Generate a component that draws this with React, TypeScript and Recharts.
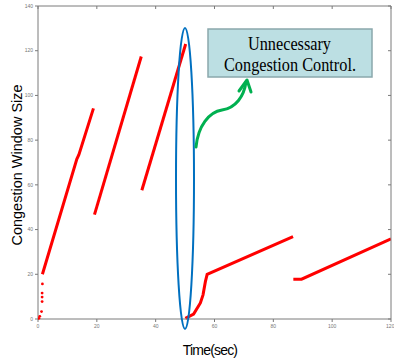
import React from 'react';
import { ComposedChart, Line, Scatter, XAxis, YAxis } from 'recharts';

// cwnd trace (time in sec, window in segments)
const slowStart = [
  { x: 1.5, y: 20 },
  { x: 13.2, y: 71.5 },
  { x: 13.9, y: 73.5 },
  { x: 18.85, y: 94.2 },
];
const avoid1 = [
  { x: 19.2, y: 46.7 },
  { x: 35.1, y: 117.4 },
];
const avoid2 = [
  { x: 35.3, y: 57.6 },
  { x: 50.2, y: 123 },
];
const recovery = [
  { x: 50.1, y: 0.3 },
  { x: 52.9, y: 2.2 },
  { x: 55.2, y: 7.2 },
  { x: 56.1, y: 10.8 },
  { x: 56.9, y: 16.7 },
  { x: 57.5, y: 20 },
  { x: 86.7, y: 36.9 },
];
const avoid3 = [
  { x: 86.8, y: 17.8 },
  { x: 89.6, y: 17.8 },
  { x: 120, y: 35.8 },
];
const startDots = [
  { x: 0.3, y: 0.3 },
  { x: 0.6, y: 1.2 },
  { x: 1.2, y: 3.3 },
  { x: 1.4, y: 7.8 },
  { x: 1.4, y: 9.8 },
  { x: 1.4, y: 11.6 },
  { x: 1.5, y: 15.7 },
];

const xTicks = [0, 20, 40, 60, 80, 100, 120];
const yTicks = [0, 20, 40, 60, 80, 100, 120, 140];

const RED = '#ff0000';
const AXIS = '#7a7a7a';
const tickStyle = { fontSize: 5, fill: '#777', fontFamily: 'Liberation Sans' };

const segments = [slowStart, avoid1, avoid2, recovery, avoid3];

export default function App() {
  return (
    <div style={{ position: 'absolute', left: 0, top: 0, width: 394, height: 359, background: '#fff' }}>
      <ComposedChart width={394} height={359} margin={{ top: 6, right: 3, left: 0, bottom: 0 }}>
        <XAxis
          xAxisId="b"
          dataKey="x"
          type="number"
          domain={[0, 120]}
          ticks={xTicks}
          height={40}
          tickSize={3}
          stroke={AXIS}
          tick={tickStyle}
          allowDataOverflow
        />
        <XAxis
          xAxisId="t"
          dataKey="x"
          orientation="top"
          type="number"
          domain={[0, 120]}
          ticks={xTicks}
          height={1}
          mirror
          tickSize={3}
          stroke={AXIS}
          tickFormatter={() => ''}
        />
        <YAxis
          yAxisId="l"
          type="number"
          domain={[0, 140]}
          ticks={yTicks}
          width={38}
          tickSize={3}
          stroke={AXIS}
          tick={tickStyle}
        />
        <YAxis
          yAxisId="r"
          orientation="right"
          type="number"
          domain={[0, 140]}
          ticks={yTicks}
          width={1}
          mirror
          tickSize={3}
          stroke={AXIS}
          tickFormatter={() => ''}
        />
        {segments.map((seg, i) => (
          <Line
            key={i}
            xAxisId="b"
            yAxisId="l"
            data={seg}
            dataKey="y"
            type="linear"
            stroke={RED}
            strokeWidth={3}
            dot={false}
            isAnimationActive={false}
          />
        ))}
        {/* invisible copy so the top/right frame axes get drawn */}
        <Line
          xAxisId="t"
          yAxisId="r"
          data={avoid3}
          dataKey="y"
          stroke="none"
          dot={false}
          activeDot={false}
          isAnimationActive={false}
        />
        <Scatter
          xAxisId="b"
          yAxisId="l"
          data={startDots}
          dataKey="y"
          fill={RED}
          shape={(p: any) => <circle cx={p.cx} cy={p.cy} r={1.4} fill={RED} />}
          isAnimationActive={false}
        />
      </ComposedChart>

      <svg
        width={394}
        height={359}
        style={{ position: 'absolute', left: 0, top: 0, pointerEvents: 'none' }}
      >
        <text
          x={17}
          y={165}
          transform="rotate(-90 17 165)"
          textAnchor="middle"
          dominantBaseline="central"
          fontFamily="Liberation Sans"
          fontSize={14.5}
          fill="#000"
        >
          Congestion Window Size
        </text>
        <text
          x={210}
          y={355}
          textAnchor="middle"
          fontFamily="Liberation Sans"
          fontSize={14}
          letterSpacing={-0.8}
          fill="#000"
        >
          Time(sec)
        </text>

        <ellipse cx={185} cy={178.5} rx={9} ry={150.5} fill="none" stroke="#0070c0" strokeWidth={2} />

        <rect x={208} y={29} width={164} height={48} fill="#bcdfe3" stroke="#8aa8ac" strokeWidth={1.5} />
        <text
          x={248}
          y={50}
          textLength={83}
          lengthAdjust="spacingAndGlyphs"
          fontFamily="Liberation Serif"
          fontSize={19}
          fill="#000"
        >
          Unnecessary
        </text>
        <text
          x={224}
          y={71}
          textLength={132}
          lengthAdjust="spacingAndGlyphs"
          fontFamily="Liberation Serif"
          fontSize={19}
          fill="#000"
        >
          Congestion Control.
        </text>

        <path
          d="M196 147 C 198 126, 209 112, 222 110 C 236 108, 244 96, 246 82"
          fill="none"
          stroke="#00b050"
          strokeWidth={3}
          strokeLinecap="round"
        />
        <polyline
          points="239,91 247,80 251,92"
          fill="none"
          stroke="#00b050"
          strokeWidth={3}
          strokeLinecap="round"
          strokeLinejoin="round"
        />
      </svg>
    </div>
  );
}
